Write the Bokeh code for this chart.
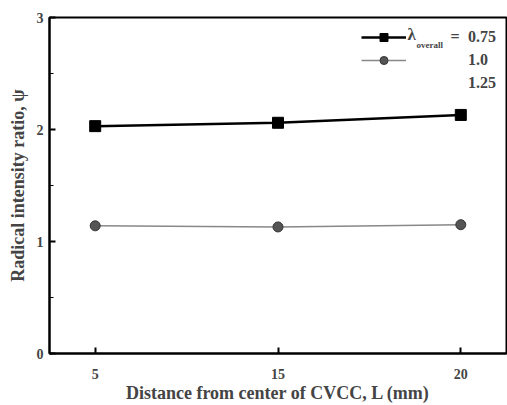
from bokeh.plotting import figure
from bokeh.models import (FactorRange, Range1d, Legend, LegendItem, Label,
                          FixedTicker, ColumnDataSource)
from bokeh.embed import file_html
from bokeh.resources import INLINE

# data
distances = ["5", "15", "20"]
psi_075 = [2.03, 2.06, 2.13]
psi_100 = [1.14, 1.13, 1.15]
psi_125 = []
legend_labels = ["0.75", "1.0", "1.25"]
y_ticks = [0, 1, 2, 3]

FONT = "Liberation Serif"

p = figure(width=507, height=405, output_backend="svg", toolbar_location=None,
           x_range=FactorRange(*distances, range_padding=-0.25, range_padding_units="absolute"),
           y_range=Range1d(0, 3),
           min_border_left=49, min_border_top=17, min_border_right=1, min_border_bottom=51)

p.grid.visible = False
p.outline_line_color = "black"
p.outline_line_width = 2
p.background_fill_color = "white"
p.border_fill_color = "white"

s1 = ColumnDataSource(dict(x=distances, y=psi_075))
s2 = ColumnDataSource(dict(x=distances, y=psi_100))
s3 = ColumnDataSource(dict(x=psi_125, y=psi_125))

l1 = p.line("x", "y", source=s1, line_color="black", line_width=2.5)
m1 = p.scatter("x", "y", source=s1, marker="square", size=11, fill_color="black", line_color="black")
l2 = p.line("x", "y", source=s2, line_color="#888888", line_width=1.5)
m2 = p.scatter("x", "y", source=s2, marker="circle", size=10, fill_color="#555555", line_color="#333333")
l3 = p.line("x", "y", source=s3, line_color="white", line_alpha=0)

legend = Legend(items=[LegendItem(label=legend_labels[0], renderers=[l1, m1]),
                       LegendItem(label=legend_labels[1], renderers=[l2, m2]),
                       LegendItem(label=legend_labels[2], renderers=[l3])],
                location="top_right", border_line_alpha=0, background_fill_alpha=0,
                glyph_width=45, label_standoff=62, spacing=3,
                label_text_font=FONT, label_text_font_style="bold", label_text_font_size="16px",
                margin=4, padding=6)
p.add_layout(legend)

# legend prefix text
p.add_layout(Label(x=358, y=310, x_units="screen", y_units="screen", text="λ",
                   text_font=FONT, text_font_style="bold", text_font_size="17px"))
p.add_layout(Label(x=367, y=304, x_units="screen", y_units="screen", text="overall",
                   text_font=FONT, text_font_style="bold", text_font_size="9px"))
p.add_layout(Label(x=401, y=309, x_units="screen", y_units="screen", text="=",
                   text_font=FONT, text_font_style="bold", text_font_size="16px"))

# axes
for ax in (p.xaxis[0], p.yaxis[0]):
    ax.axis_line_width = 2
    ax.axis_line_color = "black"
    ax.major_tick_in = 6
    ax.major_tick_out = 0
    ax.major_tick_line_width = 2
    ax.minor_tick_in = 4
    ax.minor_tick_out = 0
    ax.major_label_text_font = FONT
    ax.major_label_text_font_style = "bold"
    ax.major_label_text_font_size = "14px"
    ax.axis_label_text_font = FONT
    ax.axis_label_text_font_style = "bold"
    ax.axis_label_text_font_size = "18px"

p.yaxis.ticker = FixedTicker(ticks=y_ticks, minor_ticks=[0.5, 1.5, 2.5])
p.yaxis.axis_label = "Radical intensity ratio, ψ"
p.yaxis.major_label_standoff = 6
p.yaxis.axis_label_standoff = 6
p.xaxis.axis_label = "Distance from center of CVCC, L (mm)"
p.xaxis.major_label_standoff = 15
p.xaxis.axis_label_standoff = 1

open("out.html", "w").write(file_html(p, INLINE))
